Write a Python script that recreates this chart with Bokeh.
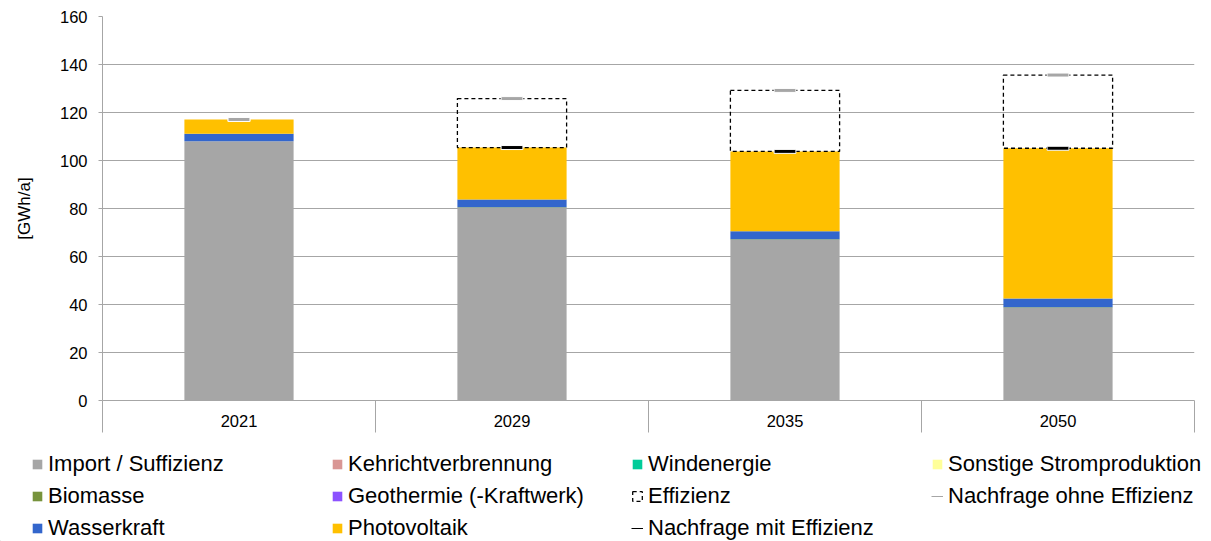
from bokeh.plotting import figure
from bokeh.layouts import column
from bokeh.models import (Range1d, FixedTicker, Legend, LegendItem,
                          ColumnDataSource)
from bokeh.embed import file_html
from bokeh.resources import INLINE

# Electricity supply and demand per scenario year [GWh/a]
years = ["2021", "2029", "2035", "2050"]
import_suffizienz = [108.0, 80.3, 67.0, 38.6]
biomasse = [0.0, 0.2, 0.2, 0.3]
wasserkraft = [3.1, 3.3, 3.3, 3.6]
kehricht = [0.0, 0.0, 0.0, 0.0]
geothermie = [0.0, 0.0, 0.0, 0.0]
photovoltaik = [6.0, 21.6, 33.3, 62.6]
windenergie = [0.0, 0.0, 0.0, 0.0]
sonstige = [0.0, 0.0, 0.0, 0.0]
effizienz = [0.0, 20.4, 25.4, 30.5]
nachfrage_ohne = [117.1, 125.8, 129.2, 135.6]
nachfrage_mit = [117.1, 105.4, 103.8, 105.1]
y_ticks = [0, 20, 40, 60, 80, 100, 120, 140, 160]

FONT = "Liberation Sans"
GRID = "#a6a6a6"

stack_keys = ["import", "bio", "wasser", "kehricht", "geo", "pv", "wind", "sonst"]
stack_labels = ["Import / Suffizienz", "Biomasse", "Wasserkraft",
                "Kehrichtverbrennung", "Geothermie (-Kraftwerk)",
                "Photovoltaik", "Windenergie", "Sonstige Stromproduktion"]
stack_colors = ["#a6a6a6", "#77933c", "#3366cc", "#d99694", "#8c52ff",
                "#ffc000", "#00cc99", "#ffff99"]
ohne_color = "#a6a6a6"
mit_color = "black"

xpos = [i + 0.5 for i in range(len(years))]
supply_top = [sum(v) for v in zip(import_suffizienz, biomasse, wasserkraft,
                                   kehricht, geothermie, photovoltaik,
                                   windenergie, sonstige)]

src = ColumnDataSource(dict(
    x=xpos, year=years,
    **{"import": import_suffizienz}, bio=biomasse, wasser=wasserkraft,
    kehricht=kehricht, geo=geothermie, pv=photovoltaik, wind=windenergie,
    sonst=sonstige, ohne=nachfrage_ohne, mit=nachfrage_mit,
))

# efficiency boxes only where there is an efficiency gain
eff_idx = [i for i, e in enumerate(effizienz) if e > 0]
eff_src = ColumnDataSource(dict(
    x=[xpos[i] for i in eff_idx],
    bottom=[supply_top[i] for i in eff_idx],
    top=[supply_top[i] + effizienz[i] for i in eff_idx],
))

EFF_STYLE = dict(fill_alpha=0, line_color="black", line_width=1.3, line_dash="4 3")

p = figure(width=1211, height=441, output_backend="svg", toolbar_location=None,
           x_range=Range1d(0, len(years)), y_range=Range1d(0, 160),
           min_border_left=102, min_border_right=17, min_border_top=16,
           min_border_bottom=41)
p.outline_line_color = None
p.frame_align = False

# stacked supply bars
p.vbar_stack(stack_keys, x="x", width=0.4, source=src,
             color=stack_colors, line_color=None)

# efficiency gap shown as a dashed empty box above the supply stack
p.vbar(x="x", bottom="bottom", top="top", width=0.4, source=eff_src, **EFF_STYLE)

# demand markers
p.rect(x="x", y="mit", width=0.08, height=4, height_units="screen",
       source=src, fill_color=mit_color, line_color="white", line_width=1)
p.rect(x="x", y="ohne", width=0.08, height=4, height_units="screen",
       source=src, fill_color=ohne_color, line_color="white", line_width=1)

# axes
p.yaxis.ticker = FixedTicker(ticks=y_ticks)
p.yaxis.axis_label = "[GWh/a]"
p.yaxis.axis_label_text_font = FONT
p.yaxis.axis_label_text_font_size = "17px"
p.yaxis.axis_label_text_font_style = "normal"
p.yaxis.axis_label_text_color = "black"
p.yaxis.axis_label_standoff = 23
p.yaxis.major_label_text_font = FONT
p.yaxis.major_label_text_font_size = "16.5px"
p.yaxis.major_label_text_color = "black"
p.yaxis.major_label_standoff = 11
p.yaxis.major_tick_in = 0
p.yaxis.major_tick_out = 4
p.yaxis.minor_tick_line_color = None
p.yaxis.axis_line_color = GRID
p.yaxis.major_tick_line_color = GRID

p.xaxis.ticker = FixedTicker(ticks=xpos,
                             minor_ticks=list(range(len(years) + 1)))
p.xaxis.major_label_overrides = {x: y for x, y in zip(xpos, years)}
p.xaxis.major_label_text_font = FONT
p.xaxis.major_label_text_font_size = "16.5px"
p.xaxis.major_label_text_color = "black"
p.xaxis.major_label_standoff = -18
p.xaxis.major_tick_in = 0
p.xaxis.major_tick_out = 0
p.xaxis.major_tick_line_color = None
p.xaxis.minor_tick_in = 0
p.xaxis.minor_tick_out = 32
p.xaxis.minor_tick_line_color = GRID
p.xaxis.axis_line_color = GRID

p.xgrid.grid_line_color = None
p.ygrid.grid_line_color = GRID
p.ygrid.grid_line_width = 1

# legend panel underneath the chart
lg = figure(width=1211, height=100, output_backend="svg", toolbar_location=None,
            x_range=Range1d(0, 1), y_range=Range1d(0, 1),
            x_axis_location=None, y_axis_location=None,
            min_border_left=0, min_border_right=0, min_border_top=0,
            min_border_bottom=0)
lg.outline_line_color = None
lg.frame_align = False
lg.xgrid.grid_line_color = None
lg.ygrid.grid_line_color = None

# swatch renderers for the legend, kept outside the visible range
sw_x, sw_y = [-5.0], [-5.0]
swatch = {lab: lg.vbar(x=sw_x, top=sw_y, width=0.1, color=c, line_color=None)
          for lab, c in zip(stack_labels, stack_colors)}
swatch["Effizienz"] = lg.vbar(x=sw_x, top=sw_y, width=0.1, **EFF_STYLE)
swatch["Nachfrage ohne Effizienz"] = lg.line(x=sw_x, y=sw_y, line_color=ohne_color, line_width=1)
swatch["Nachfrage mit Effizienz"] = lg.line(x=sw_x, y=sw_y, line_color=mit_color, line_width=1)

# filled row by row in four columns
legend_rows = [
    ["Import / Suffizienz", "Kehrichtverbrennung", "Windenergie", "Sonstige Stromproduktion"],
    ["Biomasse", "Geothermie (-Kraftwerk)", "Effizienz", "Nachfrage ohne Effizienz"],
    ["Wasserkraft", "Photovoltaik", "Nachfrage mit Effizienz"],
]
items = [LegendItem(label=lab, renderers=[swatch[lab]])
         for row in legend_rows for lab in row]
legend = Legend(items=items, orientation="horizontal", ncols=4,
                location=(31, 0),
                glyph_width=12, glyph_height=12, label_standoff=5,
                label_width=277, spacing=6, padding=0, margin=0,
                label_text_font=FONT, label_text_font_size="22px",
                label_text_color="black",
                border_line_color=None, background_fill_alpha=0)
lg.add_layout(legend)

open("out.html", "w").write(file_html(column(p, lg, spacing=0), INLINE))
